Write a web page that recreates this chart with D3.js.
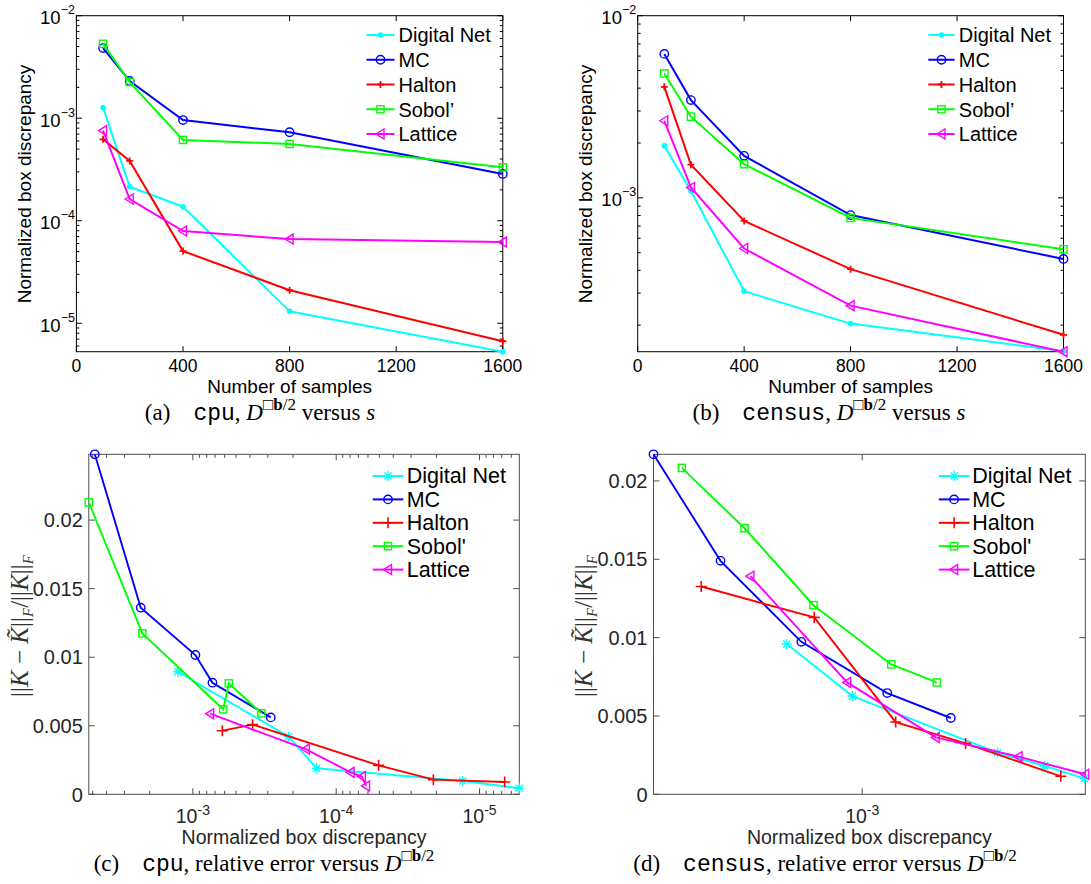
<!DOCTYPE html>
<html><head><meta charset="utf-8">
<script src="https://cdn.jsdelivr.net/npm/d3@7"></script>
<style>body{margin:0;background:#fff} svg{display:block}</style>
</head><body>
<svg id="chart" width="1091" height="884"></svg>
<script>
// ---------------- data ----------------
const seriesTop = ["Digital Net", "MC", "Halton", "Sobol\u2019", "Lattice"];
const seriesBottom = ["Digital Net", "MC", "Halton", "Sobol'", "Lattice"];
const samples = [100, 200, 400, 800, 1600];
const sampleTicks = [0, 400, 800, 1200, 1600];
const errTicks = [0, 0.005, 0.01, 0.015, 0.02];
const errTickLabels = ["0", "0.005", "0.01", "0.015", "0.02"];

// (a) cpu: normalized box discrepancy vs number of samples
const cpuDigitalNet = [1.27e-3, 2.15e-4, 1.37e-4, 1.31e-5, 5.28e-6];
const cpuMC         = [4.83e-3, 2.31e-3, 9.6e-4, 7.3e-4, 2.86e-4];
const cpuHalton     = [6.23e-4, 3.83e-4, 5.06e-5, 2.10e-5, 6.68e-6];
const cpuSobol      = [5.32e-3, 2.25e-3, 6.14e-4, 5.61e-4, 3.32e-4];
const cpuLattice    = [7.57e-4, 1.63e-4, 7.94e-5, 6.62e-5, 6.19e-5];

// (b) census: normalized box discrepancy vs number of samples
const censusDigitalNet = [1.93e-3, 1.09e-3, 3.07e-4, 2.04e-4, 1.44e-4];
const censusMC         = [6.17e-3, 3.44e-3, 1.70e-3, 8.04e-4, 4.62e-4];
const censusHalton     = [4.07e-3, 1.52e-3, 7.47e-4, 4.06e-4, 1.77e-4];
const censusSobol      = [4.82e-3, 2.79e-3, 1.53e-3, 7.76e-4, 5.22e-4];
const censusLattice    = [2.65e-3, 1.14e-3, 5.27e-4, 2.56e-4, 1.43e-4];

// (c) cpu: relative error
const cpuErrDigitalNet = [0.00894, 0.0042, 0.0019, 0.00097, 0.00044];
const cpuErrMC         = [0.0248, 0.01361, 0.01016, 0.00814, 0.00561];
const cpuErrHalton     = [0.00464, 0.00508, 0.00211, 0.00107, 0.0009];
const cpuErrSobol      = [0.02129, 0.01174, 0.0062, 0.00809, 0.0059];
const cpuErrLattice    = [0.00588, 0.0033, 0.0016, 0.00129, 0.00061];

// (d) census: relative error
const censusErrDigitalNet = [0.00959, 0.00627, 0.00266, 0.00181, 0.001];
const censusErrMC         = [0.0217, 0.0149, 0.00973, 0.00646, 0.00487];
const censusErrHalton     = [0.01326, 0.01129, 0.00461, 0.00325, 0.00115];
const censusErrSobol      = [0.02083, 0.01698, 0.01207, 0.00829, 0.00714];
const censusErrLattice    = [0.01392, 0.00714, 0.00363, 0.0024, 0.00128];

// ---------------- styles ----------------
const colors = ["#00ffff", "#0000ff", "#ff0000", "#00ff00", "#ff00ff"];
const markersTop = ["dot", "circle", "plus", "square", "tri"];
const markersBottom = ["star", "circle", "plus", "square", "tri"];
const SANS = "'Liberation Sans', Arial, Helvetica, sans-serif";
const SERIF = "'Liberation Serif', 'Times New Roman', serif";
const MONO = "'Liberation Mono', 'Courier New', monospace";

const svg = d3.select("#chart");

function marker(g, type, cx, cy, color, big) {
  const sw = 1.4;
  if (type === "dot") {
    g.append("circle").attr("cx", cx).attr("cy", cy).attr("r", 2.8).attr("fill", color);
  } else if (type === "circle") {
    g.append("circle").attr("cx", cx).attr("cy", cy).attr("r", 4.2)
      .attr("fill", "none").attr("stroke", color).attr("stroke-width", sw);
  } else if (type === "plus") {
    const s = big ? 5.5 : 3.5;
    g.append("path").attr("d", `M${cx - s},${cy}H${cx + s}M${cx},${cy - s}V${cy + s}`)
      .attr("stroke", color).attr("stroke-width", big ? 1.6 : 1.8).attr("fill", "none");
  } else if (type === "star") {
    const s = 5, d = 3.6;
    g.append("path").attr("d", `M${cx - s},${cy}H${cx + s}M${cx},${cy - s}V${cy + s}M${cx - d},${cy - d}L${cx + d},${cy + d}M${cx - d},${cy + d}L${cx + d},${cy - d}`)
      .attr("stroke", color).attr("stroke-width", 1.4).attr("fill", "none");
  } else if (type === "square") {
    g.append("rect").attr("x", cx - 3.6).attr("y", cy - 3.6).attr("width", 7.2).attr("height", 7.2)
      .attr("fill", "none").attr("stroke", color).attr("stroke-width", sw);
  } else if (type === "tri") {
    g.append("path").attr("d", `M${cx - 4.5},${cy}L${cx + 3.5},${cy - 5}L${cx + 3.5},${cy + 5}Z`)
      .attr("fill", "none").attr("stroke", color).attr("stroke-width", sw);
  }
}

function logTicks(domain) {
  const lo = d3.min(domain), hi = d3.max(domain), out = [];
  for (let e = Math.floor(Math.log10(lo)); e <= Math.ceil(Math.log10(hi)); e++) {
    for (let k = 1; k <= 9; k++) {
      const v = k * Math.pow(10, e);
      if (v >= lo * 0.9999 && v <= hi * 1.0001) out.push({ v, major: k === 1, e });
    }
  }
  return out;
}

function powLabel(g, x, y, anchor, exp, size, expSize, expDy, color) {
  const t = g.append("text").attr("x", x).attr("y", y).attr("text-anchor", anchor)
    .attr("font-family", SANS).attr("font-size", size).attr("fill", color);
  t.append("tspan").text("10");
  t.append("tspan").attr("font-size", expSize).attr("dy", expDy).text(exp);
}

function caption(g, cx, y, label, dataset, tail) {
  const t = g.append("text").attr("x", cx).attr("y", y).attr("text-anchor", "middle")
    .attr("font-family", SERIF).attr("font-size", 23).attr("fill", "#000")
    .attr("xml:space", "preserve");
  t.append("tspan").text(label + "\u2003");
  t.append("tspan").attr("font-family", MONO).attr("font-size", 23).text(dataset);
  t.append("tspan").text(", ");
  if (tail !== "vs") t.append("tspan").text("relative error versus ");
  t.append("tspan").attr("font-style", "italic").text("D");
  t.append("tspan").attr("font-size", 17).attr("dy", -10).text("\u25A1");
  t.append("tspan").attr("font-size", 17).attr("font-weight", "bold").text("b");
  t.append("tspan").attr("font-size", 17).text("/2");
  if (tail === "vs") {
    t.append("tspan").attr("dy", 10).text(" versus ");
    t.append("tspan").attr("font-style", "italic").text("s");
  }
}

function legend(g, names, markers, lx0, lx1, tx, y0, dy, fontSize) {
  names.forEach((n, i) => {
    const y = y0 + i * dy;
    g.append("line").attr("x1", lx0).attr("x2", lx1).attr("y1", y).attr("y2", y)
      .attr("stroke", colors[i]).attr("stroke-width", 2);
    marker(g, markers[i], (lx0 + lx1) / 2, y, colors[i], markers === markersBottom);
    g.append("text").attr("x", tx).attr("y", y + 7.3).attr("font-family", SANS)
      .attr("font-size", fontSize).attr("fill", "#000").text(n);
  });
}

// ---------------- top panels (a), (b) ----------------
function topPanel(xr, series, yLabelX, capX, capLabel, dataset, legendPos) {
  const g = svg.append("g");
  const all = series.flat();
  const x = d3.scaleLinear().domain([0, 1600]).range(xr);
  const y = d3.scaleLog().domain([d3.min(all), 1e-2]).range([351.7, 15.7]);
  const [x0, x1] = xr, [yb, yt] = [351.7, 15.7];

  logTicks(y.domain()).forEach(t => {
    const yy = y(t.v), len = t.major ? 5.5 : 3;
    g.append("line").attr("x1", x0).attr("x2", x0 + len).attr("y1", yy).attr("y2", yy).attr("stroke", "#000");
    g.append("line").attr("x1", x1).attr("x2", x1 - len).attr("y1", yy).attr("y2", yy).attr("stroke", "#000");
    if (t.major) powLabel(g, x0 - 1.5, yy + 8.5, "end", "\u2212" + (-t.e), 18.5, 12.5, -10, "#000");
  });
  sampleTicks.forEach(v => {
    const xx = x(v);
    g.append("line").attr("x1", xx).attr("x2", xx).attr("y1", yb).attr("y2", yb - 5.5).attr("stroke", "#000");
    g.append("line").attr("x1", xx).attr("x2", xx).attr("y1", yt).attr("y2", yt + 5.5).attr("stroke", "#000");
    g.append("text").attr("x", xx).attr("y", 371.5).attr("text-anchor", "middle")
      .attr("font-family", SANS).attr("font-size", 17.5).text(v);
  });
  g.append("rect").attr("x", x0).attr("y", yt).attr("width", x1 - x0).attr("height", yb - yt)
    .attr("fill", "none").attr("stroke", "#000").attr("stroke-width", 1);

  const line = d3.line().x((d, i) => x(samples[i])).y(d => y(d));
  series.forEach((s, k) => {
    g.append("path").attr("d", line(s)).attr("fill", "none").attr("stroke", colors[k]).attr("stroke-width", 2);
    s.forEach((d, i) => marker(g, markersTop[k], x(samples[i]), y(d), colors[k], false));
  });

  g.append("text").attr("x", (x0 + x1) / 2).attr("y", 392.5).attr("text-anchor", "middle")
    .attr("font-family", SANS).attr("font-size", 19).text("Number of samples");
  g.append("text").attr("transform", `translate(${yLabelX},184) rotate(-90)`).attr("text-anchor", "middle")
    .attr("font-family", SANS).attr("font-size", 19).text("Normalized box discrepancy");
  legend(g, seriesTop, markersTop, legendPos[0], legendPos[1], legendPos[2], 35, 24.75, 20);
  caption(g, capX, 420, capLabel, dataset, "vs");
}

// ---------------- bottom panels (c), (d) ----------------
function bottomPanel(xr, xs, ys, yLabelX, capX, capLabel, dataset, legendPos, minorX) {
  const g = svg.append("g");
  const allX = xs.flat(), allY = ys.flat();
  const x = d3.scaleLog().domain([d3.max(allX), d3.min(allX)]).range(xr);
  const y = d3.scaleLinear().domain([0, d3.max(allY)]).range([794.3, 454.3]);
  const [x0, x1] = xr, [yb, yt] = [794.3, 454.3];
  const axisColor = "#4d4d4d", txtColor = "#262626";

  errTicks.forEach((v, i) => {
    const yy = y(v);
    g.append("line").attr("x1", x0).attr("x2", x0 + 6).attr("y1", yy).attr("y2", yy).attr("stroke", axisColor);
    g.append("line").attr("x1", x1).attr("x2", x1 - 6).attr("y1", yy).attr("y2", yy).attr("stroke", axisColor);
    g.append("text").attr("x", x0 - 6).attr("y", yy + 7.2).attr("text-anchor", "end")
      .attr("font-family", SANS).attr("font-size", 20).attr("fill", txtColor).text(errTickLabels[i]);
  });
  logTicks(x.domain()).forEach(t => {
    if (!t.major && !minorX) return;
    const xx = x(t.v), len = t.major ? 6 : 3.5;
    g.append("line").attr("x1", xx).attr("x2", xx).attr("y1", yb).attr("y2", yb - len).attr("stroke", axisColor);
    g.append("line").attr("x1", xx).attr("x2", xx).attr("y1", yt).attr("y2", yt + len).attr("stroke", axisColor);
    if (t.major) powLabel(g, xx, 823, "middle", "-" + (-t.e), 19.5, 14, -8, txtColor);
  });
  g.append("rect").attr("x", x0).attr("y", yt).attr("width", x1 - x0).attr("height", yb - yt)
    .attr("fill", "none").attr("stroke", axisColor).attr("stroke-width", 1);

  const line = d3.line().x(d => x(d[0])).y(d => y(d[1]));
  xs.forEach((sx, k) => {
    const pts = sx.map((v, i) => [v, ys[k][i]]);
    g.append("path").attr("d", line(pts)).attr("fill", "none").attr("stroke", colors[k]).attr("stroke-width", 1.9);
    pts.forEach(p => marker(g, markersBottom[k], x(p[0]), y(p[1]), colors[k], true));
  });

  g.append("text").attr("x", (x0 + x1) / 2).attr("y", 843.5).attr("text-anchor", "middle")
    .attr("font-family", SANS).attr("font-size", 19.5).attr("fill", txtColor).text("Normalized box discrepancy");
  const yl = g.append("text").attr("transform", `translate(${yLabelX},626) rotate(-90)`).attr("text-anchor", "middle")
    .attr("font-family", SERIF).attr("font-size", 25).attr("fill", "#333");
  yl.append("tspan").text("||");
  yl.append("tspan").attr("font-style", "italic").text("K");
  yl.append("tspan").text(" \u2212 ");
  yl.append("tspan").attr("font-style", "italic").text("K\u0303");
  yl.append("tspan").text("||");
  yl.append("tspan").attr("font-style", "italic").attr("font-size", 15).attr("dy", 5).text("F");
  yl.append("tspan").attr("dy", -5).text("/||");
  yl.append("tspan").attr("font-style", "italic").text("K");
  yl.append("tspan").text("||");
  yl.append("tspan").attr("font-style", "italic").attr("font-size", 15).attr("dy", 5).text("F");

  legend(g, seriesBottom, markersBottom, legendPos[0], legendPos[1], legendPos[2], 476, 23.4, 21.5);
  caption(g, capX, 871, capLabel, dataset, "err");
}

const cpuDisc = [cpuDigitalNet, cpuMC, cpuHalton, cpuSobol, cpuLattice];
const censusDisc = [censusDigitalNet, censusMC, censusHalton, censusSobol, censusLattice];
const cpuErr = [cpuErrDigitalNet, cpuErrMC, cpuErrHalton, cpuErrSobol, cpuErrLattice];
const censusErr = [censusErrDigitalNet, censusErrMC, censusErrHalton, censusErrSobol, censusErrLattice];

topPanel([76.4, 502.8], cpuDisc, 31, 260, "(a)", "cpu", [366.5, 394.5, 398.5]);
topPanel([637.7, 1063.5], censusDisc, 592, 829, "(b)", "census", [928.3, 954.6, 958.8]);
bottomPanel([88.8, 519.3], cpuDisc, cpuErr, 28, 264, "(c)", "cpu", [372.7, 403.3, 406.7], true);
bottomPanel([653.5, 1085.3], censusDisc, censusErr, 592, 825, "(d)", "census", [938.8, 969.4, 972.2], false);
</script>
</body></html>
